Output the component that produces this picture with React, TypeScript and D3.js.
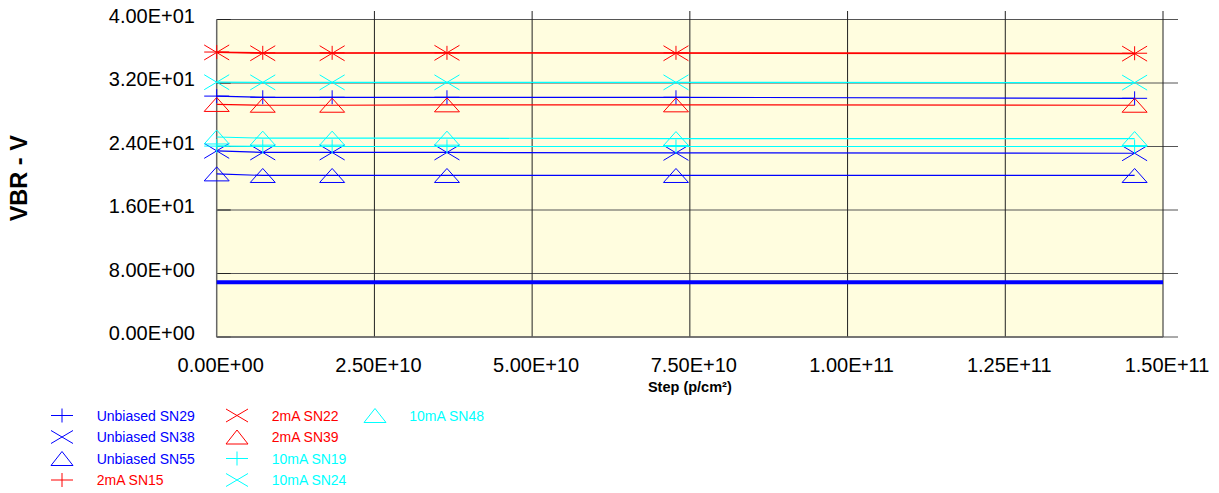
import React from "react";
import * as d3 from "d3";

const steps = [0, 7.3e9, 1.83e10, 3.65e10, 7.28e10, 1.455e11];
const xTicks = [0, 2.5e10, 5e10, 7.5e10, 1e11, 1.25e11, 1.5e11];
const yTicks = [0, 8, 16, 24, 32, 40];

const unbiasedSN29 = [30.35, 30.2, 30.2, 30.2, 30.2, 30.07];
const unbiasedSN38 = [23.45, 23.25, 23.25, 23.25, 23.2, 23.15];
const unbiasedSN55 = [20.55, 20.35, 20.35, 20.35, 20.35, 20.35];
const ma2SN15 = [35.9, 35.8, 35.8, 35.8, 35.8, 35.75];
const ma2SN22 = [35.85, 35.75, 35.75, 35.8, 35.75, 35.7];
const ma2SN39 = [29.3, 29.2, 29.2, 29.25, 29.25, 29.2];
const ma10SN19 = [24.05, 24.0, 24.0, 24.0, 24.0, 24.0];
const ma10SN24 = [32.1, 32.08, 32.08, 32.08, 32.08, 32.05];
const ma10SN48 = [25.2, 25.05, 25.05, 25.05, 25.0, 25.0];

const limitX = [0, 1.5e11];
const limitY = [6.9, 6.9];

type Sym = "plus" | "x" | "tri";
const series: { name: string; values: number[]; color: string; sym: Sym }[] = [
  { name: "Unbiased SN29", values: unbiasedSN29, color: "#0000FF", sym: "plus" },
  { name: "Unbiased SN38", values: unbiasedSN38, color: "#0000FF", sym: "x" },
  { name: "Unbiased SN55", values: unbiasedSN55, color: "#0000FF", sym: "tri" },
  { name: "2mA SN15", values: ma2SN15, color: "#FF0000", sym: "plus" },
  { name: "2mA SN22", values: ma2SN22, color: "#FF0000", sym: "x" },
  { name: "2mA SN39", values: ma2SN39, color: "#FF0000", sym: "tri" },
  { name: "10mA SN19", values: ma10SN19, color: "#00FFFF", sym: "plus" },
  { name: "10mA SN24", values: ma10SN24, color: "#00FFFF", sym: "x" },
  { name: "10mA SN48", values: ma10SN48, color: "#00FFFF", sym: "tri" },
];

function marker(sym: Sym, cx: number, cy: number, hw: number, hh: number) {
  if (sym === "plus") return `M${cx - hw},${cy}H${cx + hw}M${cx},${cy - hh}V${cy + hh}`;
  if (sym === "x") return `M${cx - hw},${cy - hh}L${cx + hw},${cy + hh}M${cx - hw},${cy + hh}L${cx + hw},${cy - hh}`;
  return `M${cx},${cy - hh}L${cx + hw},${cy + hh}L${cx - hw},${cy + hh}Z`;
}

function fmtE(v: number) {
  const s = d3.format(".2e")(v).toUpperCase();
  return s.replace(/E([+-])(\d)$/, "E$10$2");
}

const FONT = "'Liberation Sans', Arial, sans-serif";

export default function App() {
  const W = 1219, H = 493;
  const L = 216.7, R = 1163, T = 19.5, B = 337;
  const x = d3.scaleLinear().domain([0, 1.5e11]).range([L, R]);
  const y = d3.scaleLinear().domain([0, 40]).range([B, T]);
  const line = d3.line<[number, number]>().x((d) => x(d[0])).y((d) => y(d[1]));

  const legendCols = [62, 237, 375];
  const legendTextX = [96.7, 271.7, 409.3];
  const legendRows = [415.5, 437, 458.5, 480];

  return (
    <svg width={W} height={H} style={{ position: "absolute", left: 0, top: 0, background: "#fff" }} fontFamily={FONT}>
      <rect x={L} y={T} width={R - L} height={B - T} fill="#FFFDDF" />
      {/* horizontal grid */}
      {yTicks.map((t) => (
        <line key={"h" + t} x1={L} x2={1178} y1={y(t)} y2={y(t)} stroke="#555" strokeWidth={1} />
      ))}
      {yTicks.map((t) => (
        <line key={"ht" + t} x1={L} x2={L + 14} y1={y(t)} y2={y(t)} stroke="#222" strokeWidth={1} />
      ))}
      {/* vertical grid */}
      {xTicks.filter((t) => t > 0).map((t) => (
        <line key={"v" + t} x1={x(t)} x2={x(t)} y1={11} y2={B} stroke="#222" strokeWidth={1} />
      ))}
      {/* axes frame */}
      <line x1={L} x2={L} y1={T} y2={B} stroke="#666" strokeWidth={1.5} />
      <line x1={L} x2={R} y1={B} y2={B} stroke="#666" strokeWidth={1.5} />

      {/* reference line */}
      <path d={line(limitX.map((v, i) => [v, limitY[i]]) as [number, number][]) || ""} stroke="#0000FF" strokeWidth={4} fill="none" />

      {/* series */}
      {series.map((s) => (
        <g key={s.name}>
          <path d={line(steps.map((v, i) => [v, s.values[i]]) as [number, number][]) || ""} stroke={s.color} strokeWidth={1.2} fill="none" />
          {steps.map((v, i) => (
            <path key={i} d={marker(s.sym, x(v), y(s.values[i]), 12.5, s.sym === "x" ? 7.5 : 7)} stroke={s.color} strokeWidth={1} fill="none" />
          ))}
        </g>
      ))}

      {/* y tick labels */}
      {yTicks.map((t) => (
        <text key={"yl" + t} x={195} y={y(t) + 3} fontSize={20} textAnchor="end" fill="#000">
          {fmtE(t)}
        </text>
      ))}
      {/* x tick labels */}
      {xTicks.map((t) => (
        <text key={"xl" + t} x={x(t) + 4} y={371.5} fontSize={20} textAnchor="middle" fill="#000">
          {fmtE(t)}
        </text>
      ))}
      <text x={(L + R) / 2} y={391.5} fontSize={14.5} fontWeight="bold" textAnchor="middle">
        Step (p/cm²)
      </text>
      <text transform={`translate(27.3,${(T + B) / 2}) rotate(-90)`} fontSize={23.5} fontWeight="bold" textAnchor="middle">
        VBR - V
      </text>

      {/* legend */}
      {series.map((s, i) => {
        const col = Math.floor(i / 4);
        const row = i % 4;
        const cy = legendRows[row];
        return (
          <g key={"lg" + s.name}>
            <path d={marker(s.sym, legendCols[col], cy, 11, s.sym === "x" ? 6.5 : 7)} stroke={s.color} strokeWidth={1} fill="none" />
            <text x={legendTextX[col]} y={cy + 5} fontSize={14} fill={s.color}>
              {s.name}
            </text>
          </g>
        );
      })}
    </svg>
  );
}
